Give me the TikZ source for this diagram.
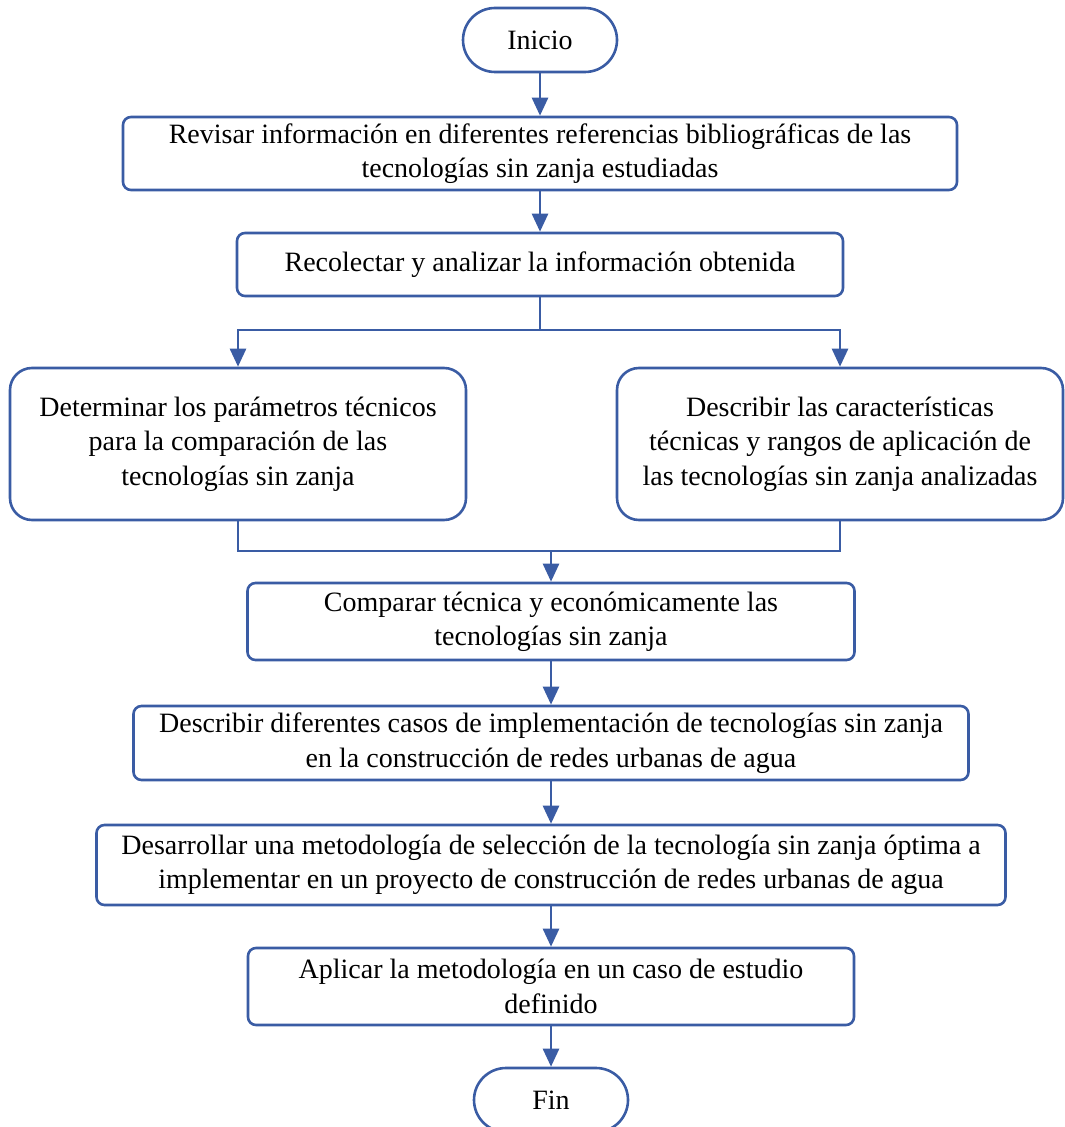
\documentclass[tikz,border=0pt]{standalone}
\usepackage{fontspec}
\setmainfont{Liberation Serif}
\usetikzlibrary{arrows.meta}
\definecolor{azul}{HTML}{3A5CA4}

\begin{document}
\begin{tikzpicture}[x=0.5pt,y=-0.5pt,
  caja/.style={draw=azul,line width=1.3pt,rounded corners=4pt,align=center,
    inner sep=0pt,font=\fontsize{14}{17.2}\selectfont},
  cajagrande/.style={caja,rounded corners=11pt},
  terminal/.style={caja,rounded corners=16pt,minimum width=77pt,minimum height=32pt},
  flecha/.style={draw=azul,line width=1.3pt,-{Triangle[width=8pt,length=9pt]}},
  linea/.style={draw=azul,line width=1.3pt}]
  \useasboundingbox (0,0) rectangle (1064,1127);
  % nodes
  \node[terminal] (inicio) at (540,40) {Inicio};
  \node[caja,minimum width=417pt,minimum height=36.5pt] (revisar) at (540,153.5)
    {Revisar información en diferentes referencias bibliográficas de las\\tecnologías sin zanja estudiadas};
  \node[caja,minimum width=303pt,minimum height=31.5pt] (recolectar) at (540,264.5)
    {Recolectar y analizar la información obtenida};
  \node[cajagrande,minimum width=228pt,minimum height=76pt] (parametros) at (238,444)
    {Determinar los parámetros técnicos\\para la comparación de las\\tecnologías sin zanja};
  \node[cajagrande,minimum width=223pt,minimum height=76pt] (caracteristicas) at (840,444)
    {Describir las características\\técnicas y rangos de aplicación de\\las tecnologías sin zanja analizadas};
  \node[caja,minimum width=303.5pt,minimum height=38.5pt] (comparar) at (551,621.5)
    {Comparar técnica y económicamente las\\tecnologías sin zanja};
  \node[caja,minimum width=417.5pt,minimum height=37pt] (casos) at (551,743)
    {Describir diferentes casos de implementación de tecnologías sin zanja\\en la construcción de redes urbanas de agua};
  \node[caja,minimum width=454.5pt,minimum height=40pt] (metodologia) at (551,865)
    {Desarrollar una metodología de selección de la tecnología sin zanja óptima a\\implementar en un proyecto de construcción de redes urbanas de agua};
  \node[caja,minimum width=303pt,minimum height=38.5pt] (aplicar) at (551,986.5)
    {Aplicar la metodología en un caso de estudio\\definido};
  \node[terminal] (fin) at (551,1100) {Fin};
  % split and join points
  \coordinate (division) at (540,330);
  \coordinate (union) at (551,551);
  % connectors
  \draw[flecha] (inicio) -- (revisar);
  \draw[flecha] (revisar) -- (recolectar);
  \draw[linea] (recolectar) -- (division);
  \draw[flecha] (division) -| (parametros.north);
  \draw[flecha] (division) -| (caracteristicas.north);
  \draw[linea] (parametros.south) |- (union) -| (caracteristicas.south);
  \draw[flecha] (union) -- (comparar);
  \draw[flecha] (comparar) -- (casos);
  \draw[flecha] (casos) -- (metodologia);
  \draw[flecha] (metodologia) -- (aplicar);
  \draw[flecha] (aplicar) -- (fin);
\end{tikzpicture}
\end{document}
